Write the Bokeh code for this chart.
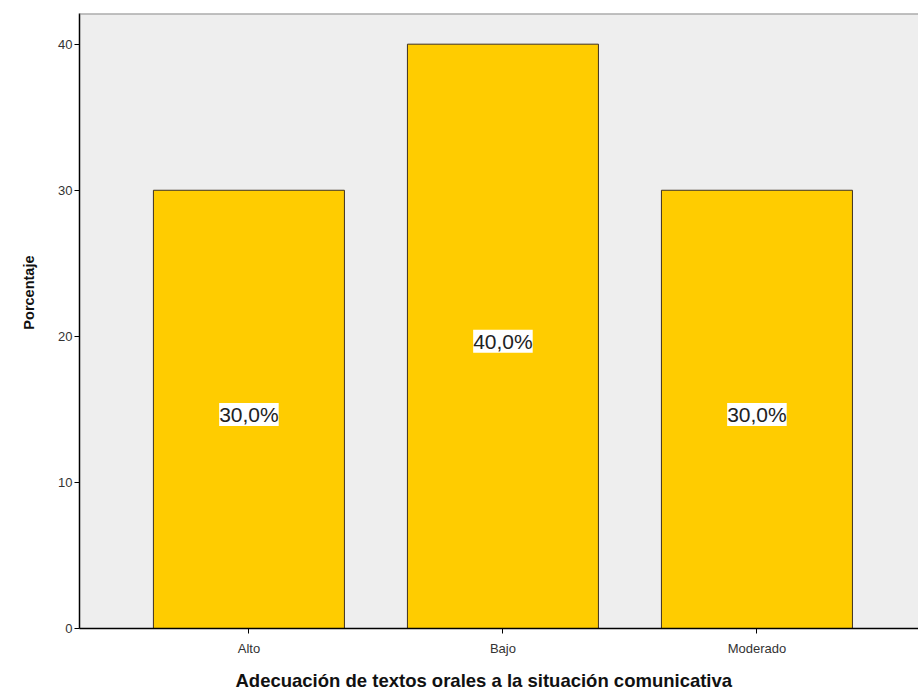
from bokeh.plotting import figure
from bokeh.models import ColumnDataSource, LabelSet, Title, FixedTicker, Range1d, Span
from bokeh.core.properties import value
from bokeh.embed import file_html
from bokeh.resources import INLINE

categories = ["Alto", "Bajo", "Moderado"]
values = [30.0, 40.0, 30.0]
y_ticks = [0, 10, 20, 30, 40]
x_title = "Adecuación de textos orales a la situación comunicativa"
y_title = "Porcentaje"

xpos = [i + 1 for i in range(len(categories))]
labels = [f"{v:.1f}%".replace(".", ",") for v in values]
src = ColumnDataSource(dict(x=xpos, top=values, mid=[v / 2 for v in values], label=labels))

p = figure(frame_width=840, frame_height=615, output_backend="svg", toolbar_location=None,
           x_range=Range1d(0.333, 3.64), y_range=Range1d(0, 42.1),
           min_border_left=78, min_border_right=0, min_border_top=13, min_border_bottom=0)
p.background_fill_color = "#EEEEEE"
p.border_fill_color = "white"
p.outline_line_color = None
p.grid.visible = False

p.vbar(x="x", top="top", width=0.752, bottom=0, source=src,
       fill_color="#FFCC00", line_color="#3D3020", line_width=1)

p.add_layout(Span(location=42.1, dimension="width", line_color="#8A8A8A", line_width=2))

lab = LabelSet(x="x", y="mid", text="label", source=src, text_align="center",
               text_baseline="middle", y_offset=-5, text_font=value("Liberation Sans"),
               text_font_size="21px", text_color="#222222",
               background_fill_color="white", background_fill_alpha=1.0)
p.add_layout(lab)

# x axis
p.xaxis.ticker = FixedTicker(ticks=xpos)
p.xaxis.major_label_overrides = {x: c for x, c in zip(xpos, categories)}
p.xaxis.major_label_standoff = 7

# y axis
p.yaxis.ticker = FixedTicker(ticks=y_ticks)
p.yaxis.major_label_standoff = 2

for ax in (p.xaxis, p.yaxis):
    ax.axis_line_color = "black"
    ax.axis_line_width = 1.5
    ax.major_tick_line_color = "black"
    ax.major_tick_out = 5
    ax.major_tick_in = 0
    ax.minor_tick_line_color = None
    ax.major_label_text_font = "Liberation Sans"
    ax.major_label_text_font_size = "13px"
    ax.major_label_text_color = "#333333"

# axis titles as Title annotations so they can be offset like the reference
p.add_layout(Title(text=x_title, align="left", offset=156, standoff=19,
                   text_font="Liberation Sans", text_font_style="bold",
                   text_font_size="18.5px", text_color="#111111"), "below")
p.add_layout(Title(text=y_title, align="right", offset=242, standoff=37,
                   text_font="Liberation Sans", text_font_style="bold",
                   text_font_size="14.5px", text_color="#111111"), "left")

open("out.html", "w").write(file_html(p, INLINE))
